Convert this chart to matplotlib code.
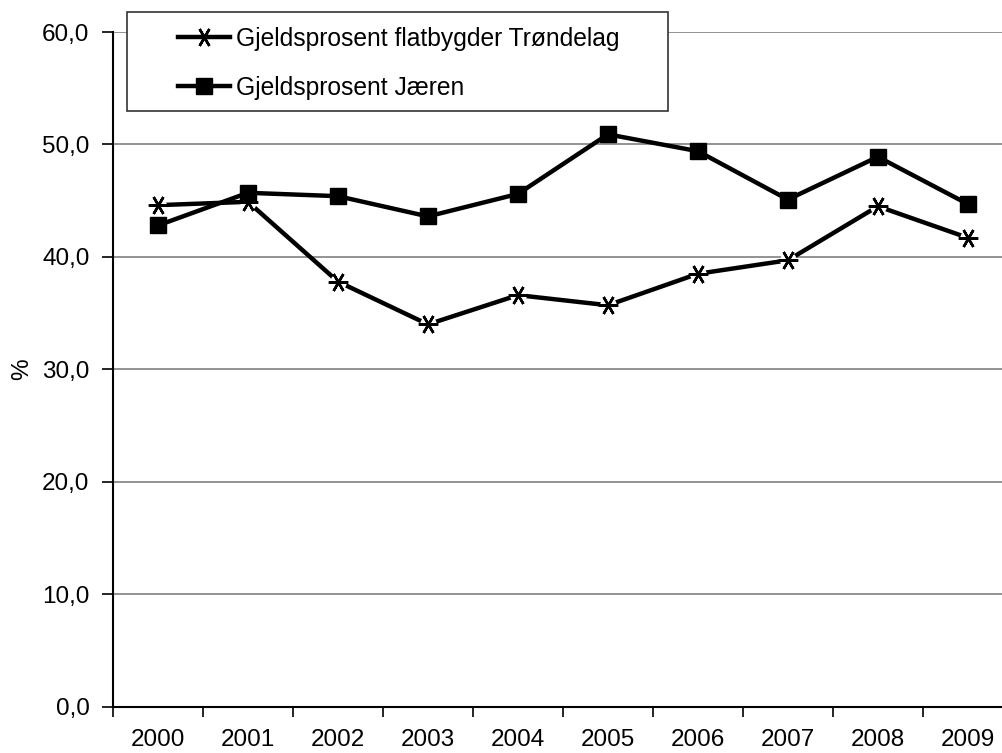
import matplotlib.pyplot as plt
from matplotlib.patches import Rectangle
from matplotlib.ticker import FuncFormatter

# --- Data ---
years = ['2000', '2001', '2002', '2003', '2004', '2005', '2006', '2007', '2008', '2009']
trondelag = [44.6, 44.9, 37.8, 34.0, 36.6, 35.7, 38.5, 39.7, 44.5, 41.7]
jaeren = [42.8, 45.7, 45.4, 43.6, 45.6, 50.9, 49.4, 45.1, 48.9, 44.7]

label_tr = 'Gjeldsprosent flatbygder Trøndelag'
label_ja = 'Gjeldsprosent Jæren'

plt.rcParams['font.family'] = ['Liberation Sans', 'DejaVu Sans']
plt.rcParams['font.size'] = 17.5

W, H = 1002, 753
fig = plt.figure(figsize=(W / 100, H / 100), dpi=100)
ax = fig.add_axes([0.1128, 0.0615, 0.898, 0.896])

x = list(range(len(years)))

# grid
for v in range(10, 61, 10):
    ax.axhline(v, color='#808080', lw=1.2, zorder=1)

ax.plot(x, trondelag, color='black', lw=3.2, zorder=2)
# white halo so the line stops short of the asterisk, like the original
ax.plot(x, trondelag, ls='none', marker='o', mfc='white', mec='none', ms=12, zorder=2.5)
ax.plot(x, trondelag, ls='none', marker=(6, 2, 90), ms=14, mew=1.8,
        color='black', zorder=3)
ax.plot(x, jaeren, color='black', lw=3.2, marker='s', ms=12, zorder=4)

ax.set_xlim(-0.5, len(years) - 0.5)
ax.set_ylim(0, 60)
ax.set_yticks(range(0, 61, 10))
ax.yaxis.set_major_formatter(FuncFormatter(lambda v, p: f'{v:.1f}'.replace('.', ',')))

ax.set_xticks([i - 0.5 for i in range(len(years) + 1)])
ax.set_xticklabels([])
ax.set_xticks(x, minor=True)
ax.set_xticklabels(years, minor=True)
ax.tick_params(axis='x', which='minor', length=0, pad=16)
ax.tick_params(axis='x', which='major', length=7, width=1.2, direction='out')
ax.tick_params(axis='y', length=8, width=1.2, direction='out', pad=9)

for s in ['top', 'right']:
    ax.spines[s].set_visible(False)
for s in ['left', 'bottom']:
    ax.spines[s].set_linewidth(1.5)

ax.set_ylabel('%')
ax.yaxis.set_label_coords(-0.089, 0.5)

# legend frame (drawn by hand so the padding matches)
frame = Rectangle((127 / W, 1 - 111 / H), 541 / W, 99 / H, transform=fig.transFigure,
                  facecolor='white', edgecolor='#333333', lw=1.2, zorder=5, clip_on=False)
ax.add_patch(frame)

h_tr, = ax.plot([], [], color='black', lw=3.2, marker=(6, 2, 90), ms=14, mew=1.8)
h_ja, = ax.plot([], [], color='black', lw=3.2, marker='s', ms=12)
leg = ax.legend([h_tr, h_ja], [label_tr, label_ja], loc='upper left',
                bbox_to_anchor=(178 / W, 1 - 27 / H), bbox_transform=fig.transFigure,
                frameon=False, handlelength=2.1, handletextpad=0.25,
                borderpad=0, labelspacing=1.0, borderaxespad=0, fontsize=17.7)
leg.set_zorder(6)

fig.savefig('out.png', dpi=100)
